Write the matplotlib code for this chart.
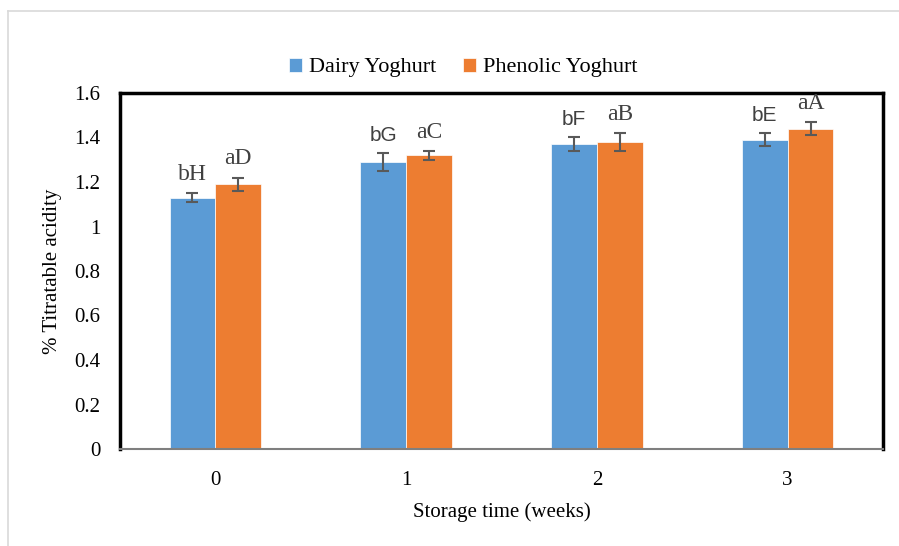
import numpy as np
import matplotlib
matplotlib.use("Agg")
import matplotlib.pyplot as plt
from matplotlib.lines import Line2D

plt.rcParams['font.family'] = ['Liberation Serif', 'DejaVu Serif']

weeks = ["0", "1", "2", "3"]
dairy = [1.13, 1.29, 1.37, 1.39]
dairy_err = [0.02, 0.04, 0.03, 0.03]
phenolic = [1.19, 1.32, 1.38, 1.44]
phenolic_err = [0.03, 0.02, 0.04, 0.03]
dairy_labels = ["bH", "bG", "bF", "bE"]
phenolic_labels = ["aD", "aC", "aB", "aA"]

fig = plt.figure(figsize=(8.99, 5.46), dpi=100)
ax = fig.add_axes([120/899, 1-449/546, (883-120)/899, (449-93)/546])

x = np.arange(len(weeks))
w = 0.24
blue = "#5B9BD5"
orange = "#ED7D31"
errc = "#595959"

ax.bar(x - w/2, dairy, w, color=blue, edgecolor="white", linewidth=0.5, label="Dairy Yoghurt",
       yerr=dairy_err, error_kw=dict(ecolor=errc, elinewidth=1.5, capsize=4, capthick=1.5))
ax.bar(x + w/2, phenolic, w, color=orange, edgecolor="white", linewidth=0.5, label="Phenolic Yoghurt",
       yerr=phenolic_err, error_kw=dict(ecolor=errc, elinewidth=1.5, capsize=4, capthick=1.5))

for i in range(len(weeks)):
    fam = ['Liberation Serif'] if i == 0 else ['Liberation Sans']
    ax.annotate(dairy_labels[i], (x[i] - w/2, dairy[i] + dairy_err[i]), xytext=(0, 6),
                textcoords="offset points", ha="center", va="bottom",
                fontsize=17 if i == 0 else 15, color="#404040", family=fam)
    ax.annotate(phenolic_labels[i], (x[i] + w/2, phenolic[i] + phenolic_err[i]), xytext=(0, 6),
                textcoords="offset points", ha="center", va="bottom", fontsize=17,
                color="#404040")

ax.set_xlim(-0.5, 3.5)
ax.set_ylim(0, 1.6)
ax.set_xticks(x)
ax.set_xticklabels(weeks)
yt = np.arange(0, 1.61, 0.2)
ax.set_yticks(yt)
ax.set_yticklabels([f"{v:g}" for v in yt])
ax.tick_params(axis="y", length=0, labelsize=15, pad=14)
ax.tick_params(axis="x", length=0, labelsize=15, pad=16)
ax.set_xlabel("Storage time (weeks)", fontsize=15, labelpad=9)
ax.set_ylabel("% Titratable acidity", fontsize=15, labelpad=9)

for s in ["left", "top", "right"]:
    ax.spines[s].set_linewidth(2.5)
    ax.spines[s].set_color("black")
ax.spines["bottom"].set_linewidth(1.5)
ax.spines["bottom"].set_color("#7f7f7f")

ax.legend(loc="lower center", bbox_to_anchor=(0.45, 1.0), ncol=2, frameon=False,
          fontsize=16, handlelength=0.6, handleheight=0.6, handletextpad=0.3,
          columnspacing=1.2, borderaxespad=0.3)

fig.add_artist(Line2D([8/899, 1], [1-11/546, 1-11/546], color="#d9d9d9", lw=1.2))
fig.add_artist(Line2D([8/899, 8/899], [0, 1-11/546], color="#d9d9d9", lw=1.2))

fig.savefig("out.png", dpi=100)
